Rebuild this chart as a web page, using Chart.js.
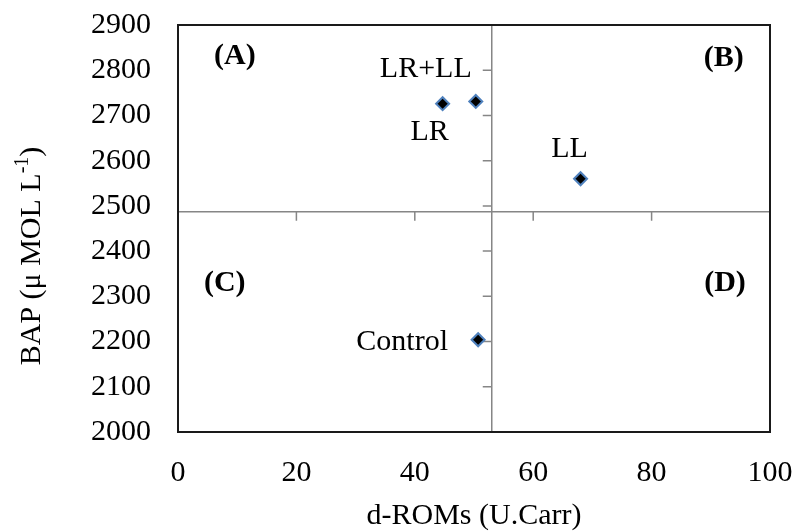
<!DOCTYPE html>
<html>
<head>
<meta charset="utf-8">
<script src="https://cdn.jsdelivr.net/npm/chart.js@4"></script>
<style>
  html, body { margin: 0; padding: 0; background: #fff; }
  #wrap { width: 796px; height: 531px; }
</style>
</head>
<body>
<div id="wrap"><canvas id="chart" width="796" height="531"></canvas></div>
<script>
// Data
const groups = ['LR', 'LR+LL', 'LL', 'Control'];
const dRoms = [44.7, 50.3, 68.0, 50.7];
const bap = [2726, 2731, 2560, 2204];

const quadrantNames = ['(A)', '(B)', '(C)', '(D)'];
const quadrantX = [9.6, 92.2, 7.9, 92.4];
const quadrantY = [2832, 2827, 2330, 2330];

const xTicks = [0, 20, 40, 60, 80, 100];
const yTicks = [2000, 2100, 2200, 2300, 2400, 2500, 2600, 2700, 2800, 2900];

// axes cross here (Excel style quadrant axes)
const crossX = 53;
const crossY = 2487;

const FONT = "'Liberation Serif', 'Times New Roman', serif";

// label placement, pixels relative to each point
const labelOffsets = [[-13, 28], [-50, -32], [-11, -30], [-76, 2]];

const quadrantPlugin = {
  id: 'quadrants',
  beforeDatasetsDraw(chart) {
    const { ctx, chartArea: a, scales: { x, y } } = chart;
    const cx = x.getPixelForValue(crossX);
    const cy = y.getPixelForValue(crossY);
    ctx.save();
    ctx.strokeStyle = '#868686';
    ctx.lineWidth = 1.5;
    ctx.beginPath();
    ctx.moveTo(a.left, cy); ctx.lineTo(a.right, cy);
    ctx.moveTo(cx, a.top); ctx.lineTo(cx, a.bottom);
    xTicks.forEach(v => {
      const px = x.getPixelForValue(v);
      ctx.moveTo(px, cy); ctx.lineTo(px, cy + 9);
    });
    yTicks.forEach(v => {
      const py = y.getPixelForValue(v);
      ctx.moveTo(cx, py); ctx.lineTo(cx - 9, py);
    });
    ctx.stroke();

    // plot border
    ctx.strokeStyle = '#1a1a1a';
    ctx.lineWidth = 2;
    ctx.strokeRect(a.left, a.top, a.right - a.left, a.bottom - a.top);
    ctx.restore();
  },
  afterDatasetsDraw(chart) {
    const { ctx, scales: { x, y } } = chart;
    ctx.save();
    ctx.fillStyle = '#000';
    ctx.textAlign = 'center';
    ctx.textBaseline = 'middle';

    // point labels
    ctx.font = '30px ' + FONT;
    groups.forEach((g, i) => {
      const px = x.getPixelForValue(dRoms[i]) + labelOffsets[i][0];
      const py = y.getPixelForValue(bap[i]) + labelOffsets[i][1];
      ctx.fillText(g, px, py);
    });

    // quadrant letters
    ctx.font = 'bold 30px ' + FONT;
    quadrantNames.forEach((q, i) => {
      ctx.fillText(q, x.getPixelForValue(quadrantX[i]), y.getPixelForValue(quadrantY[i]));
    });

    // y axis title with superscript
    const main = 'BAP (\u03bc MOL L';
    const sup = '-1';
    const tail = ')';
    ctx.translate(32, 256);
    ctx.rotate(-Math.PI / 2);
    ctx.textAlign = 'left';
    ctx.font = '30px ' + FONT;
    const w1 = ctx.measureText(main).width;
    const w3 = ctx.measureText(tail).width;
    ctx.font = '20px ' + FONT;
    const w2 = ctx.measureText(sup).width;
    let sx = -(w1 + w2 + w3) / 2;
    ctx.font = '30px ' + FONT;
    ctx.fillText(main, sx, 0);
    sx += w1;
    ctx.font = '20px ' + FONT;
    ctx.fillText(sup, sx, -9);
    sx += w2;
    ctx.font = '30px ' + FONT;
    ctx.fillText(tail, sx, 0);
    ctx.restore();
  }
};

const points = dRoms.map((v, i) => ({ x: v, y: bap[i] }));

new Chart(document.getElementById('chart'), {
  type: 'scatter',
  data: {
    datasets: [{
      label: 'BAP vs d-ROMs',
      data: points,
      pointStyle: 'rectRot',
      pointRadius: 6.5,
      pointHoverRadius: 6.5,
      backgroundColor: '#000000',
      borderColor: '#4f81bd',
      borderWidth: 2
    }]
  },
  options: {
    responsive: false,
    animation: false,
    layout: { padding: { top: 25, right: 26, left: 0, bottom: 0 } },
    plugins: {
      legend: { display: false },
      tooltip: { enabled: false }
    },
    scales: {
      x: {
        type: 'linear',
        min: 0,
        max: 100,
        afterBuildTicks: s => { s.ticks = xTicks.map(v => ({ value: v })); },
        afterFit: s => {
          s.height = 99;
          s.paddingLeft = 0;
          s.paddingRight = 0;
        },
        grid: { display: false, drawTicks: false },
        border: { display: false },
        ticks: {
          color: '#000',
          padding: 23,
          font: { family: FONT, size: 30 },
          callback: v => String(v)
        },
        title: {
          display: true,
          text: 'd-ROMs (U.Carr)',
          color: '#000',
          padding: { top: 0, bottom: -3 },
          font: { family: FONT, size: 30 }
        }
      },
      y: {
        type: 'linear',
        min: 2000,
        max: 2900,
        afterBuildTicks: s => { s.ticks = yTicks.map(v => ({ value: v })); },
        afterFit: s => {
          s.width = 178;
          s.paddingTop = 0;
          s.paddingBottom = 0;
        },
        grid: { display: false, drawTicks: false },
        border: { display: false },
        ticks: {
          color: '#000',
          padding: 27,
          font: { family: FONT, size: 30 },
          callback: v => String(v)
        },
        title: { display: false }
      }
    }
  },
  plugins: [quadrantPlugin]
});
</script>
</body>
</html>
